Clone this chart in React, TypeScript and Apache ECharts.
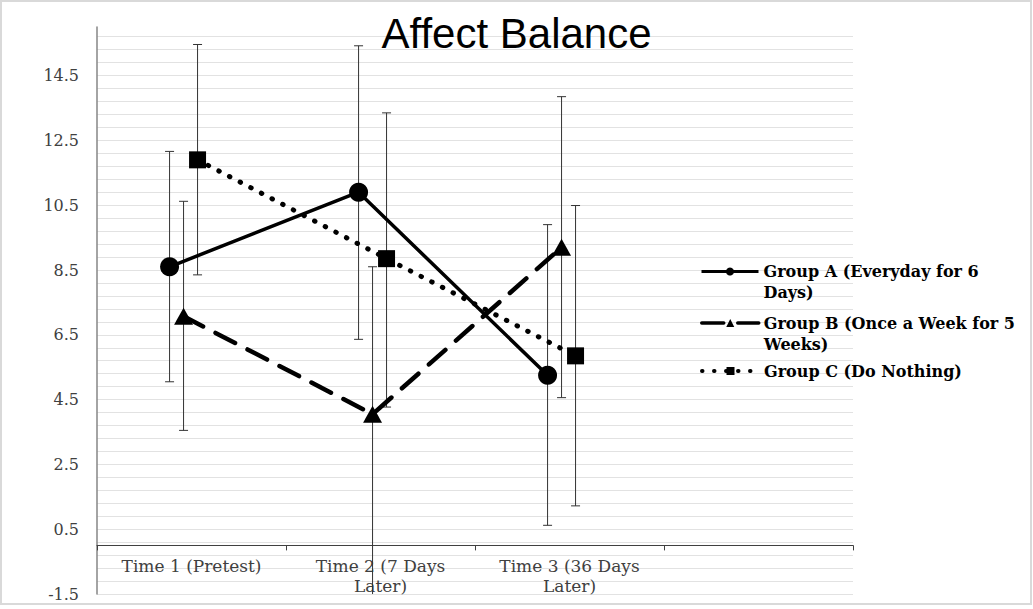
import React, { useEffect, useRef } from "react";
import * as echarts from "echarts";

const categories = ["Time 1 (Pretest)", "Time 2 (7 Days\nLater)", "Time 3 (36 Days\nLater)", ""];
const seriesNames = [
  "Group A (Everyday for 6\nDays)",
  "Group B (Once a Week for 5\nWeeks)",
  "Group C (Do Nothing)",
];
const groupAMean = [8.6, 10.9, 5.25];
const groupALow = [5.05, 6.36, 0.62];
const groupAHigh = [12.16, 15.42, 9.9];
const groupBMean = [7.07, 4.05, 9.2];
const groupBLow = [3.55, -1.6, 4.56];
const groupBHigh = [10.62, 8.6, 13.85];
const groupCMean = [11.9, 8.85, 5.85];
const groupCLow = [8.35, 4.27, 1.22];
const groupCHigh = [15.46, 13.35, 10.49];

// horizontal dodge of each group inside a category band (in band units)
const dodge = [-0.116, -0.042, 0.032];

const xPos = (i: number, s: number) => i + 0.5 + dodge[s];

function errorBarRender(params: any, api: any) {
  const x = api.value(0);
  const lo = api.coord([x, api.value(1)]);
  const hi = api.coord([x, api.value(2)]);
  const half = 4.5;
  const style = { stroke: "#333333", lineWidth: 1 };
  return {
    type: "group",
    children: [
      { type: "line", shape: { x1: hi[0], y1: hi[1], x2: lo[0], y2: lo[1] }, style },
      { type: "line", shape: { x1: hi[0] - half, y1: hi[1], x2: hi[0] + half, y2: hi[1] }, style },
      { type: "line", shape: { x1: lo[0] - half, y1: lo[1], x2: lo[0] + half, y2: lo[1] }, style },
    ],
  };
}

export default function App() {
  const ref = useRef<HTMLDivElement>(null);
  useEffect(() => {
    if (!ref.current) return;
    const chart = echarts.init(ref.current, null, { renderer: "svg" });

    const means = [groupAMean, groupBMean, groupCMean];
    const lows = [groupALow, groupBLow, groupCLow];
    const highs = [groupAHigh, groupBHigh, groupCHigh];
    const symbols = ["circle", "triangle", "rect"];
    const symbolSizes: any[] = [19, [19, 17], 17];
    const lineStyles: any[] = [
      { color: "#000", width: 3.5, type: "solid" },
      { color: "#000", width: 4.5, type: [22, 14], cap: "round" },
      { color: "#000", width: 5, type: [0.5, 11.5], cap: "round" },
    ];
    const legendLineWidths = [3, 3.5, 4];
    const legendTops = [240, 291.5, 360.5];

    const errorSeries = means.map((m, s) => ({
      type: "custom",
      name: "err" + s,
      xAxisIndex: 1,
      yAxisIndex: 0,
      clip: true,
      z: 1,
      renderItem: errorBarRender,
      data: m.map((_, i) => [xPos(i, s), lows[s][i], highs[s][i]]),
    }));

    const lineSeries = means.map((m, s) => ({
      type: "line",
      name: seriesNames[s],
      xAxisIndex: 1,
      yAxisIndex: 0,
      z: 3,
      symbol: symbols[s],
      symbolSize: symbolSizes[s],
      itemStyle: { color: "#000" },
      lineStyle: lineStyles[s],
      data: m.map((v, i) => [xPos(i, s), v]),
    }));

    const legends = seriesNames.map((n, s) => ({
      data: [n],
      orient: "vertical",
      left: 700,
      top: legendTops[s],
      padding: 0,
      itemWidth: 57,
      itemHeight: 10,
      itemGap: 5,
      selectedMode: false,
      formatter: (name: string) => (name.indexOf("\n") >= 0 ? "\n" + name : name),
      lineStyle: { width: legendLineWidths[s] },
      textStyle: {
        fontFamily: "DejaVu Serif",
        fontWeight: "bold",
        fontSize: 16,
        color: "#000",
        lineHeight: 21,
      },
    }));

    chart.setOption({
      animation: false,
      backgroundColor: "#fff",
      title: {
        text: "Affect Balance",
        left: "center",
        top: 12,
        padding: 0,
        textStyle: {
          fontFamily: "Liberation Sans",
          fontWeight: "normal",
          fontSize: 42,
          color: "#000",
        },
      },
      legend: legends,
      grid: {
        left: 97,
        right: 180,
        top: 27,
        bottom: 15,
        containLabel: false,
        outerBoundsMode: "none",
      },
      xAxis: [
        {
          type: "category",
          data: categories,
          boundaryGap: true,
          axisLine: { onZero: true, lineStyle: { color: "#404040", width: 1 } },
          axisTick: { show: true, length: 5, alignWithLabel: false, lineStyle: { color: "#404040" } },
          axisLabel: {
            interval: 0,
            fontFamily: "DejaVu Serif",
            fontSize: 17,
            color: "#404040",
            lineHeight: 20,
            margin: -38,
          },
          splitLine: { show: false },
        },
        { type: "value", min: 0, max: 4, show: false },
      ],
      yAxis: {
        type: "value",
        min: -1.5,
        max: 16,
        interval: 2,
        axisLine: { show: true, onZero: false, lineStyle: { color: "#868686", width: 1.5 } },
        axisTick: { show: false },
        axisLabel: {
          formatter: (v: number) => v.toFixed(1),
          showMaxLabel: false,
          fontFamily: "DejaVu Serif",
          fontSize: 16,
          color: "#404040",
          margin: 18,
        },
        splitLine: { show: true, showMaxLine: false, lineStyle: { color: "#e2e2e2", width: 1 } },
        minorTick: { show: false, splitNumber: 5 },
        minorSplitLine: { show: true, lineStyle: { color: "#e2e2e2", width: 1 } },
      },
      graphic: [
        {
          type: "rect",
          shape: { x: 1, y: 1, width: 1030, height: 603 },
          style: { fill: "none", stroke: "#d9d9d9", lineWidth: 2 },
          silent: true,
        },
      ],
      series: [...errorSeries, ...lineSeries],
    });
    return () => chart.dispose();
  }, []);
  return (
    <div
      ref={ref}
      style={{ position: "fixed", left: 0, top: 0, width: 1033, height: 609 }}
    />
  );
}
